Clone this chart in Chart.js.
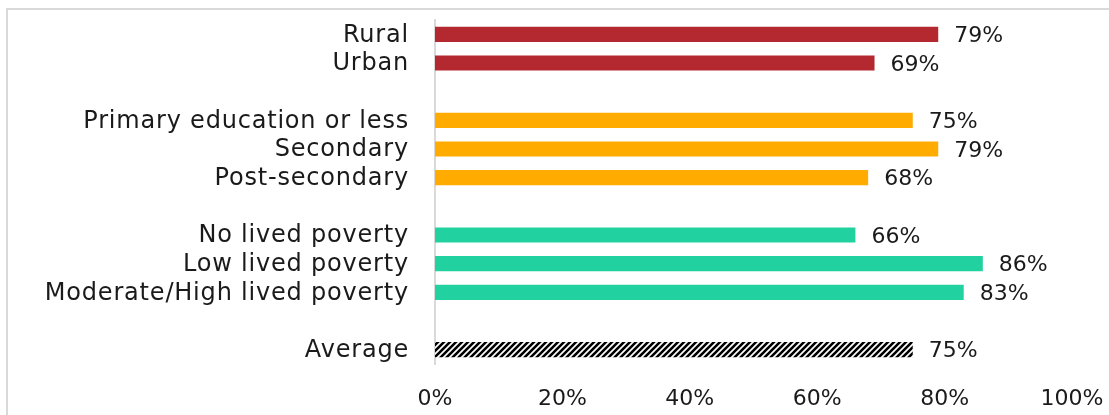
<!DOCTYPE html>
<html>
<head>
<meta charset="utf-8">
<script src="https://cdn.jsdelivr.net/npm/chart.js@4.4.1/dist/chart.umd.min.js"></script>
<style>
  html, body { margin: 0; padding: 0; background: #fff; overflow: hidden; }
  #wrap { position: relative; width: 1109px; height: 415px; overflow: hidden; }
  #frame { position: absolute; left: 6px; top: 8px; width: 1400px; height: 600px;
           border: 2px solid #d9d9d9; box-sizing: border-box; }
  #chart { position: absolute; left: 0; top: 0; }
</style>
</head>
<body>
<div id="wrap">
  <div id="frame"></div>
  <canvas id="chart" width="1109" height="415"></canvas>
</div>
<script>
// rows, blank strings are the spacer rows between groups
const categories = [
  'Rural', 'Urban', '',
  'Primary education or less', 'Secondary', 'Post-secondary', '',
  'No lived poverty', 'Low lived poverty', 'Moderate/High lived poverty', '',
  'Average'
];
const values = [79, 69, null, 75, 79, 68, null, 66, 86, 83, null, 75];
const groups = ['loc', 'loc', null, 'edu', 'edu', 'edu', null, 'pov', 'pov', 'pov', null, 'avg'];
const xTicks = [0, 20, 40, 60, 80, 100];

const FONT = 'DejaVu Sans';
const TEXT = '#1a1a1a';

// diagonal hatch for the average bar
function hatch() {
    const c = document.createElement('canvas');
    c.width = 6; c.height = 6;
    const g = c.getContext('2d');
    g.fillStyle = '#fff';
    g.fillRect(0, 0, 6, 6);
    g.strokeStyle = '#000';
    g.lineWidth = 2.6;
    g.beginPath();
    g.moveTo(-1, 7); g.lineTo(7, -1);
    g.moveTo(-4, 4); g.lineTo(4, -4);
    g.moveTo(2, 10); g.lineTo(10, 2);
    g.stroke();
    return g.createPattern(c, 'repeat');
}

const colorOf = {
    loc: '#b3292f',
    edu: '#ffab00',
    pov: '#22d1a0',
    avg: hatch()
};

/* category names (drawn here so they can get some letter spacing) and value labels */
const textLayer = {
    id: 'textLayer',
    afterDatasetsDraw(chart) {
        const ctx = chart.ctx;
        const yScale = chart.scales.y;
        const meta = chart.getDatasetMeta(0);
        ctx.save();
        ctx.fillStyle = TEXT;
        ctx.textBaseline = 'middle';

        ctx.font = '24px "' + FONT + '"';
        ctx.textAlign = 'right';
        ctx.letterSpacing = '0.8px';
        categories.forEach(function (name, i) {
            if (!name) return;
            ctx.fillText(name, yScale.right - 26, yScale.getPixelForTick(i) + 1);
        });
        ctx.letterSpacing = '0px';

        ctx.font = '22px "' + FONT + '"';
        ctx.textAlign = 'left';
        meta.data.forEach(function (bar, i) {
            if (values[i] === null) return;
            ctx.fillText(values[i] + '%', bar.x + 16, bar.y + 2);
        });
        ctx.restore();
        ctx.letterSpacing = '0px';
    }
};

new Chart(document.getElementById('chart'), {
    type: 'bar',
    data: {
        labels: categories,
        datasets: [{
            data: values,
            backgroundColor: groups.map(g => g ? colorOf[g] : 'transparent'),
            barPercentage: 1,
            categoryPercentage: 0.53
        }]
    },
    options: {
        indexAxis: 'y',
        responsive: false,
        animation: false,
        layout: { padding: { top: 20, right: 37, bottom: 0, left: 0 } },
        plugins: { legend: { display: false }, tooltip: { enabled: false } },
        scales: {
            x: {
                min: 0,
                max: 100,
                afterBuildTicks: s => { s.ticks = xTicks.map(v => ({ value: v })); },
                afterFit: s => { s.height = 51; s.paddingRight = 0; s.paddingLeft = 0; },
                grid: { display: false, drawTicks: false },
                border: { display: false },
                ticks: {
                    padding: 22,
                    color: TEXT,
                    font: { family: FONT, size: 22 },
                    callback: v => v + '%'
                }
            },
            y: {
                afterFit: s => { s.width = 435; },
                grid: { display: false, drawTicks: false },
                border: { display: true, color: '#d9d9d9', width: 2 },
                ticks: { display: false }
            }
        }
    },
    plugins: [textLayer]
});
</script>
</body>
</html>
